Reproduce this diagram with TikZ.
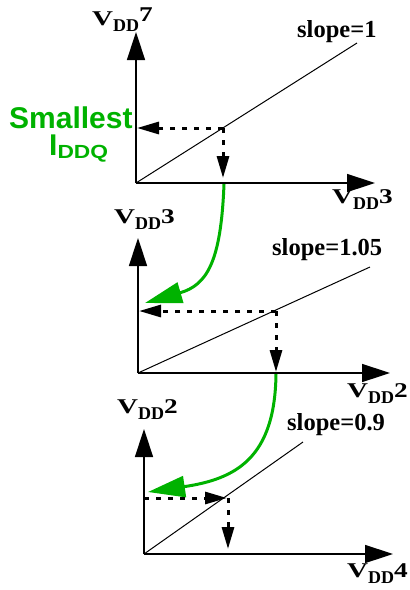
\documentclass[tikz,border=0pt]{standalone}
\usepackage{graphicx}
\usepackage{fontspec}
\setmainfont{Liberation Serif}
\newfontfamily\gsans{Liberation Sans}
\usetikzlibrary{arrows.meta}
\definecolor{xgreen}{RGB}{0,178,0}
\newcommand\vlab[2][0pt]{{\bfseries\fontsize{21}{21}\selectfont\scalebox{1.38}[1]{V}\raisebox{-6pt}{\fontsize{18}{18}\selectfont DD}\raisebox{#1}{\scalebox{1.3}[1]{#2}}}}
\begin{document}
\begin{tikzpicture}[x=1pt,y=-1pt,
  axis/.style={line width=1.5pt,-{Triangle[length=28pt,width=18pt]}},
  slopeline/.style={line width=1pt},
  dasharrow/.style={line width=3pt,dash pattern=on 5pt off 7pt,-{Triangle[length=22pt,width=12pt]}},
  greenarrow/.style={xgreen,line width=3pt,-{Triangle[length=37pt,width=21pt]}},
  lab/.style={anchor=base west,inner sep=0pt,font=\bfseries\fontsize{24.5}{24.5}\selectfont}]
\useasboundingbox (0,0) rectangle (410,590);
% graph 1
\coordinate (o1) at (136,183);
\coordinate (ya1) at (136,32);
\coordinate (xa1) at (375,183);
\coordinate (s1) at (357,43);
\coordinate (p1) at (223,128);
\coordinate (h1) at (137,128);
\coordinate (v1) at (223,178);
\coordinate (g1) at (224,184);
% graph 2
\coordinate (o2) at (138,373);
\coordinate (ya2) at (138,238);
\coordinate (xa2) at (390,373);
\coordinate (s2) at (370,267);
\coordinate (p2) at (276,311);
\coordinate (h2) at (139,311);
\coordinate (v2) at (276,372);
\coordinate (gt1) at (145,303);
\coordinate (g2) at (276,374);
% graph 3
\coordinate (o3) at (144,554);
\coordinate (ya3) at (144,429);
\coordinate (xa3) at (393,554);
\coordinate (s3) at (303,442);
\coordinate (hs3) at (144,498);
\coordinate (h3) at (227,498);
\coordinate (p3) at (228,498);
\coordinate (v3) at (228,549);
\coordinate (gt2) at (148,492);

\draw[greenarrow] (g1) .. controls (221,262) and (207,285) .. (gt1);
\draw[greenarrow] (g2) .. controls (275,458) and (236,479) .. (gt2);

\draw[axis] (o1) -- (ya1);
\draw[axis] (o1) -- (xa1);
\draw[slopeline] (o1) -- (s1);
\draw[dasharrow] (p1) -- (h1);
\draw[dasharrow] (p1) -- (v1);

\draw[axis] (o2) -- (ya2);
\draw[axis] (o2) -- (xa2);
\draw[slopeline] (o2) -- (s2);
\draw[dasharrow] (p2) -- (h2);
\draw[dasharrow] (p2) -- (v2);

\draw[axis] (o3) -- (ya3);
\draw[axis] (o3) -- (xa3);
\draw[slopeline] (o3) -- (s3);
\draw[dasharrow] (hs3) -- (h3);
\draw[dasharrow] (p3) -- (v3);

% labels
\node[lab] (l7) at (92,25) {\vlab[4pt]{7}};
\node[lab] (lsl1) at (297,37) {slope=1};
\node[lab] (lx1) at (332,203) {\vlab{3}};
\node[lab] (ly2) at (114,223) {\vlab{3}};
\node[lab] (lsl2) at (272,255) {slope=1.05};
\node[lab] (lx2) at (347,397) {\vlab{2}};
\node[lab] (ly3) at (117,413) {\vlab{2}};
\node[lab] (lsl3) at (287,430) {slope=0.9};
\node[lab] (lx3) at (347,577) {\vlab{4}};
\node[anchor=base west,inner sep=0pt,text=xgreen,font=\gsans\bfseries\fontsize{30}{30}\selectfont] (sm) at (9,128) {Smallest};
\node[anchor=base west,inner sep=0pt,text=xgreen,font=\gsans\bfseries\fontsize{30}{22}\selectfont] (iq) at (49,155) {I\raisebox{-3pt}{\fontsize{19}{19}\selectfont\scalebox{1.2}[1]{DDQ}}};
\end{tikzpicture}
\end{document}
